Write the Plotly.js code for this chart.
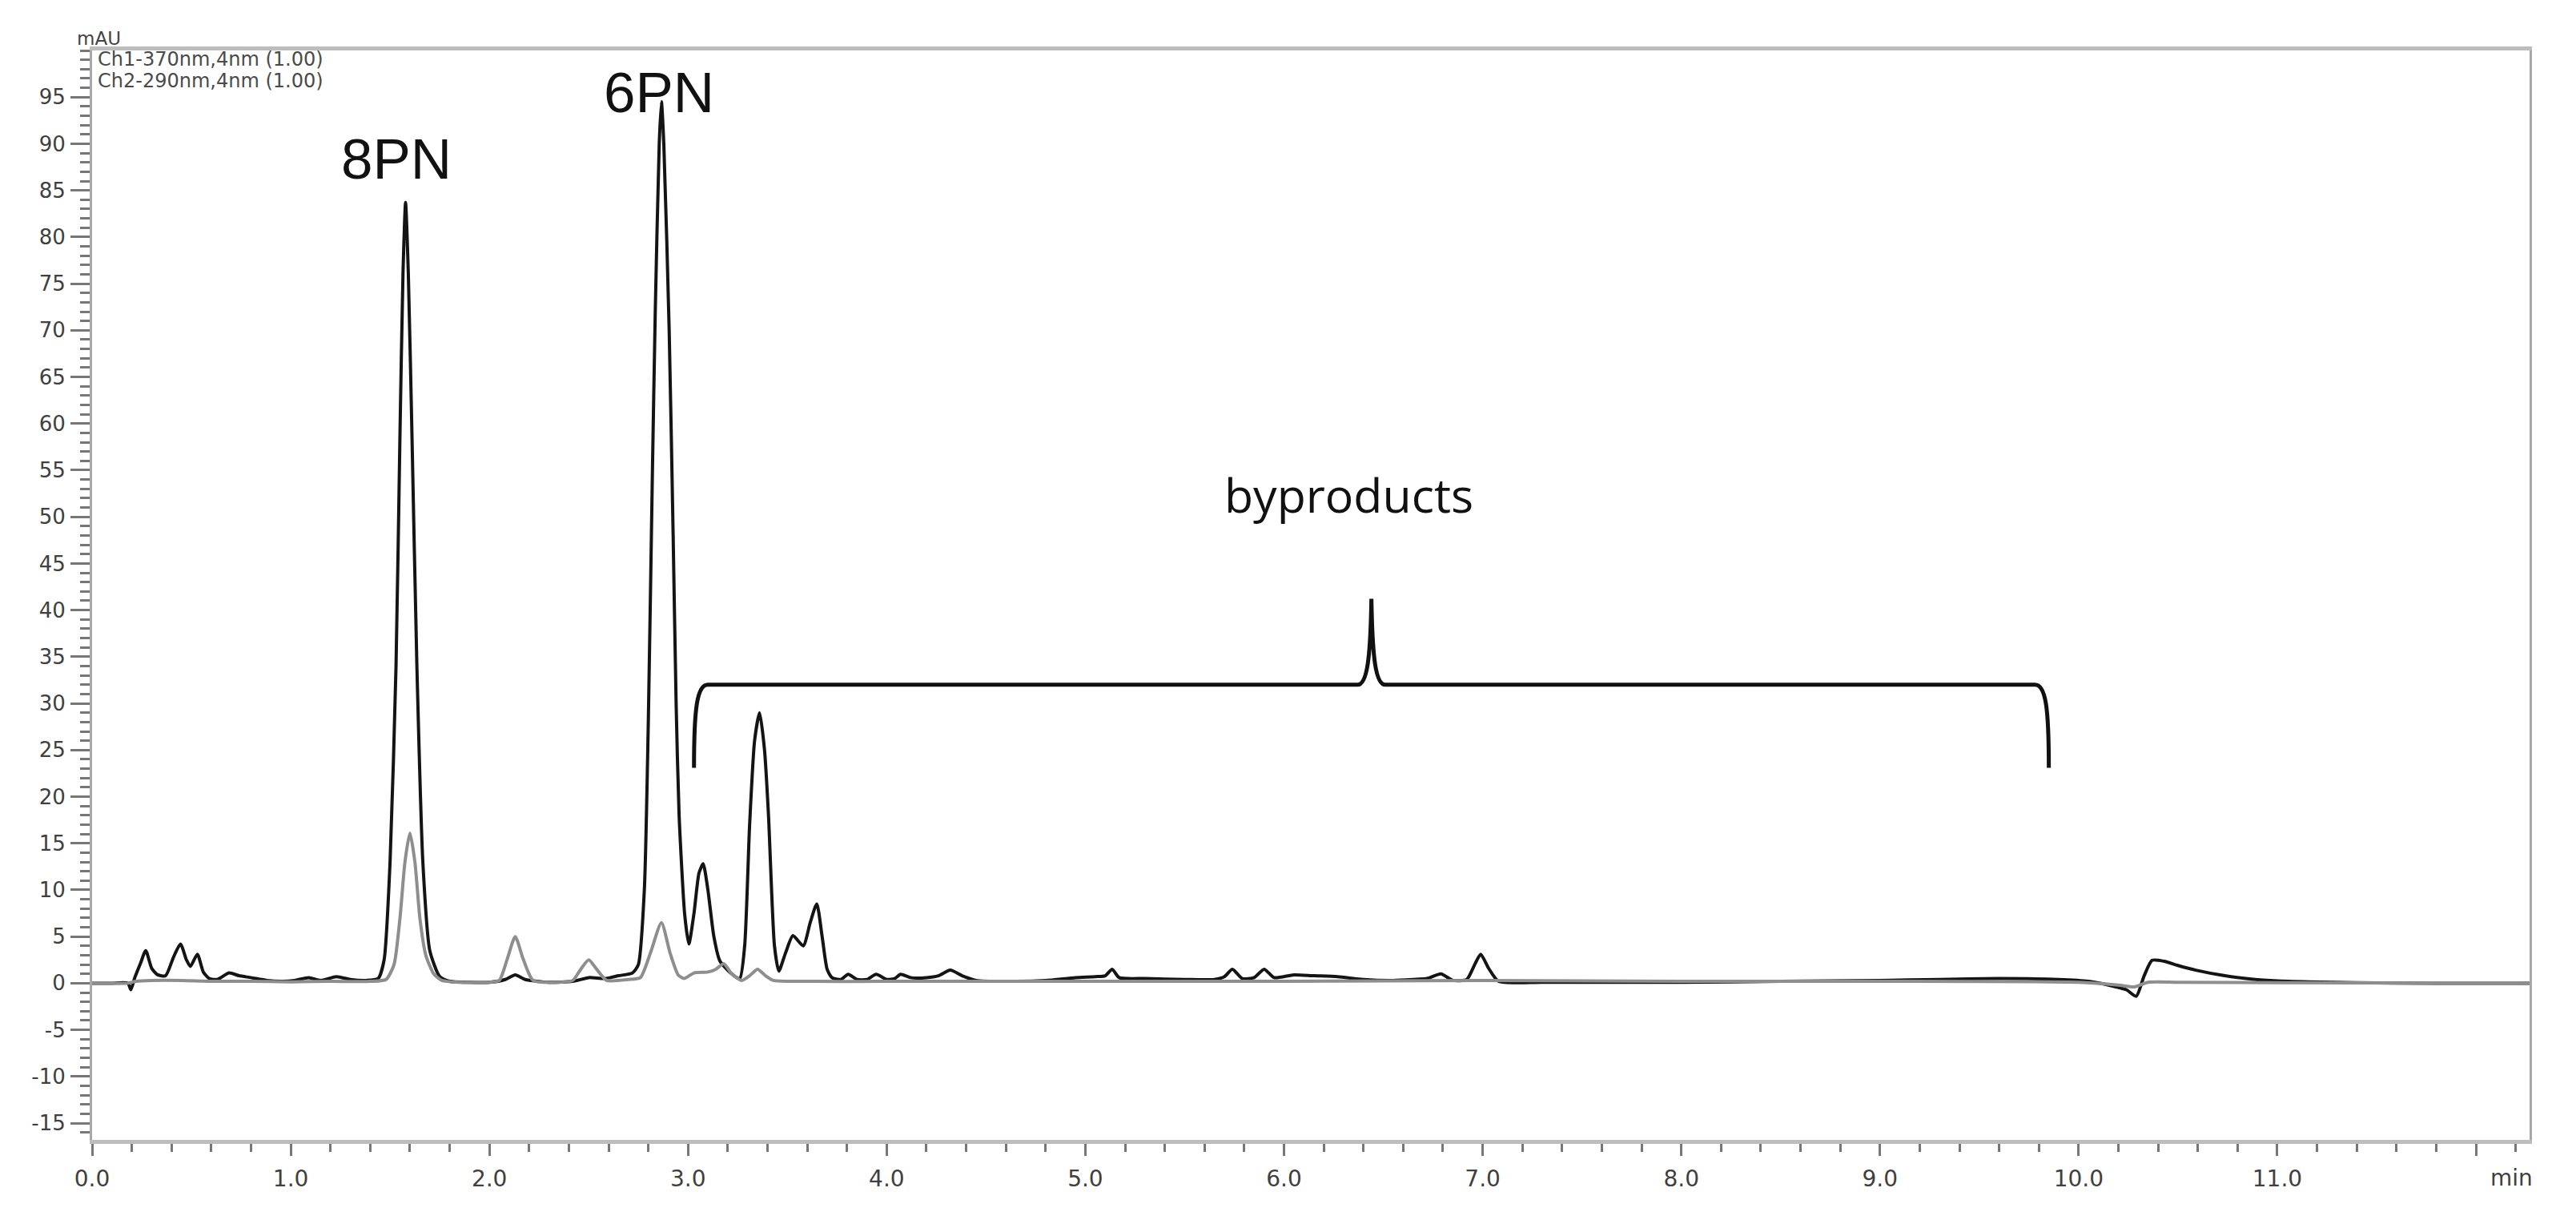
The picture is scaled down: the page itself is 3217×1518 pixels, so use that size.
<!DOCTYPE html>
<html>
<head>
<meta charset="utf-8">
<script src="https://cdn.plot.ly/plotly-3.0.1.min.js"></script>
<style>
  html, body { margin: 0; padding: 0; background: #ffffff; }
  #chart { width: 3217px; height: 1518px; }
</style>
</head>
<body>
<div id="chart"></div>
<script>
// ---- Ch1 (370 nm), black trace: retention time (min) and absorbance (mAU)
const ch1Time = [0.00, 0.10, 0.18, 0.195, 0.215, 0.245, 0.27, 0.30, 0.33, 0.37, 0.41, 0.445, 0.475, 0.495, 0.53, 0.56, 0.59, 0.63, 0.69, 0.74, 0.80, 0.88, 0.96, 1.02, 1.09, 1.15, 1.23, 1.30, 1.38, 1.44,
  1.47, 1.50, 1.53, 1.55, 1.565, 1.578, 1.592, 1.61, 1.635, 1.665, 1.70, 1.75, 1.80, 1.90, 2.00, 2.08, 2.13, 2.18, 2.30, 2.42, 2.50, 2.58, 2.65, 2.72,
  2.75, 2.78, 2.80, 2.82, 2.835, 2.855, 2.866, 2.878, 2.905, 2.925, 2.94, 2.955, 2.983, 3.004, 3.03, 3.055, 3.076, 3.10, 3.13, 3.16, 3.22, 3.26,
  3.285, 3.31, 3.335, 3.36, 3.385, 3.405, 3.435, 3.457, 3.49, 3.528, 3.58, 3.615, 3.648, 3.675, 3.70, 3.724, 3.77, 3.806, 3.85, 3.90, 3.947, 4.00,
  4.04, 4.07, 4.12, 4.20, 4.26, 4.32, 4.38, 4.45, 4.60, 4.80, 4.95, 5.05, 5.10, 5.135, 5.17, 5.30, 5.50, 5.65, 5.70, 5.74, 5.79, 5.85, 5.90, 5.95,
  6.05, 6.15, 6.27, 6.40, 6.55, 6.65, 6.72, 6.79, 6.85, 6.92, 6.96, 6.99, 7.03, 7.08, 7.30, 7.60, 8.00, 8.50, 9.00, 9.30, 9.60, 9.90, 10.05, 10.15,
  10.24, 10.29, 10.33, 10.37, 10.43, 10.50, 10.59, 10.73, 10.87, 11.00, 11.16, 11.40, 11.80, 12.27];
const ch1Abs = [0.00, 0.00, 0.00, -0.7, 0.6, 2.2, 3.5, 1.6, 0.9, 0.8, 2.8, 4.2, 2.5, 1.8, 3.1, 1.2, 0.5, 0.4, 1.1, 0.8, 0.6, 0.3, 0.2, 0.3, 0.6, 0.3, 0.7, 0.4, 0.3, 0.5,
  2.5, 13, 34, 59, 76, 83.7, 76, 59, 34, 13, 3.5, 0.7, 0.2, 0.1, 0.1, 0.4, 0.9, 0.4, 0.1, 0.2, 0.6, 0.5, 0.8, 1.1,
  2.0, 10, 28, 54, 72, 90, 94.5, 90, 70, 48, 30, 18, 7.4, 4.2, 7.5, 11.8, 12.8, 10, 5, 2.4, 1.0, 0.5,
  4, 17, 26, 29, 25, 18, 4, 1.3, 3.2, 5.1, 4.0, 6.5, 8.5, 5, 1.5, 0.6, 0.4, 0.95, 0.4, 0.4, 0.95, 0.4,
  0.5, 0.95, 0.6, 0.6, 0.8, 1.4, 0.8, 0.3, 0.2, 0.3, 0.6, 0.7, 0.8, 1.5, 0.6, 0.5, 0.4, 0.4, 0.7, 1.5, 0.5, 0.6, 1.5, 0.6,
  0.9, 0.8, 0.7, 0.4, 0.3, 0.4, 0.5, 1.0, 0.3, 0.4, 2.0, 3.1, 1.6, 0.2, 0.1, 0.1, 0.1, 0.2, 0.3, 0.4, 0.5, 0.4, 0.2, -0.2,
  -0.7, -1.4, 0.8, 2.45, 2.35, 1.9, 1.4, 0.83, 0.45, 0.25, 0.15, 0.05, 0.0, 0.0];

// ---- Ch2 (290 nm), grey trace
const ch2Time = [0.00, 0.18, 0.22, 0.30, 0.45, 0.60, 0.80, 1.00, 1.20, 1.40, 1.48, 1.52, 1.55, 1.575, 1.60, 1.625, 1.65, 1.68, 1.72, 1.76, 1.85, 2.00,
  2.05, 2.09, 2.13, 2.17, 2.22, 2.35, 2.42, 2.46, 2.50, 2.54, 2.59, 2.70, 2.76, 2.81, 2.866, 2.91, 2.95, 2.98, 3.03, 3.10, 3.14, 3.18, 3.22, 3.27,
  3.31, 3.35, 3.39, 3.43, 3.55, 4.00, 5.00, 6.00, 7.00, 8.00, 9.00, 10.00, 10.20, 10.28, 10.35, 10.50, 11.00, 12.27];
const ch2Abs = [0.00, 0.00, 0.2, 0.3, 0.3, 0.2, 0.2, 0.15, 0.2, 0.2, 0.4, 2, 7, 13, 16.1, 13, 7, 3, 1, 0.3, 0.1, 0.1,
  0.3, 2.6, 5.0, 2.6, 0.3, 0.1, 0.3, 1.5, 2.5, 1.5, 0.3, 0.4, 0.6, 3.2, 6.5, 3.2, 0.9, 0.5, 1.1, 1.2, 1.5, 2.1, 1.0, 0.3,
  0.8, 1.5, 0.8, 0.3, 0.2, 0.2, 0.2, 0.2, 0.3, 0.2, 0.2, 0.1, -0.2, -0.4, 0.1, 0.1, 0.05, 0.0];

// ---- axis ticks
const xTickVals = [0, 1, 2, 3, 4, 5, 6, 7, 8, 9, 10, 11, 12];
const xTickText = ['0.0', '1.0', '2.0', '3.0', '4.0', '5.0', '6.0', '7.0', '8.0', '9.0', '10.0', '11.0', ''];
const yTickVals = [-15, -10, -5, 0, 5, 10, 15, 20, 25, 30, 35, 40, 45, 50, 55, 60, 65, 70, 75, 80, 85, 90, 95];
const yTickText = ['-15', '-10', '-5', '0', '5', '10', '15', '20', '25', '30', '35', '40', '45', '50', '55', '60', '65', '70', '75', '80', '85', '90', '95'];

// ---- peak labels and the byproducts brace (in time / mAU units)
const peakLabels = ['8PN', '6PN'];
const peakLabelX = [1.532, 2.855];
const peakLabelY = [88.4, 95.5];
const braceText = 'byproducts';
const braceTextX = 6.326;
const braceTextY = 52.4;
const braceEnds = [3.03, 9.85];
const braceTipY = 23.1;
const braceLevel = 32.0;
const braceMid = [6.44, 41.2];
const channelNames = ['Ch1-370nm,4nm (1.00)', 'Ch2-290nm,4nm (1.00)'];

const traces = [
  { x: ch1Time, y: ch1Abs, type: 'scatter', mode: 'lines', name: channelNames[0],
    line: { color: '#141414', width: 4, shape: 'spline', smoothing: 0.6 }, hoverinfo: 'skip' },
  { x: ch2Time, y: ch2Abs, type: 'scatter', mode: 'lines', name: channelNames[1],
    line: { color: '#8e8e8e', width: 4, shape: 'spline', smoothing: 0.6 }, hoverinfo: 'skip' }
];

const L = braceEnds[0], R = braceEnds[1], lv = braceLevel, t = braceTipY, mx = braceMid[0], my = braceMid[1];
const bracePath =
  `M ${L},${t} C ${L},${lv - 2.5} ${L + 0.015},${lv} ${L + 0.07},${lv} ` +
  `L ${mx - 0.07},${lv} C ${mx - 0.02},${lv} ${mx - 0.005},${lv + 3} ${mx},${my} ` +
  `C ${mx + 0.005},${lv + 3} ${mx + 0.02},${lv} ${mx + 0.07},${lv} ` +
  `L ${R - 0.07},${lv} C ${R - 0.015},${lv} ${R},${lv - 2.5} ${R},${t}`;

const smallFont = { family: 'DejaVu Sans, Arial, sans-serif', size: 24, color: '#4a4a4a' };

const annotations = [];
for (let i = 0; i < peakLabels.length; i++) {
  annotations.push({ x: peakLabelX[i], y: peakLabelY[i], xref: 'x', yref: 'y', text: peakLabels[i],
    showarrow: false, xanchor: 'center', yanchor: 'middle',
    font: { family: 'Liberation Sans, Arial, sans-serif', size: 71, color: '#111111' } });
}
annotations.push({ x: braceTextX, y: braceTextY, xref: 'x', yref: 'y', text: braceText,
  showarrow: false, xanchor: 'center', yanchor: 'middle',
  font: { family: 'Open Sans, sans-serif', size: 59, color: '#111111' } });
annotations.push({ x: -0.007, y: 1.0110, xref: 'paper', yref: 'paper', text: 'mAU', showarrow: false,
  xanchor: 'left', yanchor: 'middle', font: { family: 'DejaVu Sans, Arial, sans-serif', size: 23, color: '#444444' } });
annotations.push({ x: 0.0015, y: 0.9918, xref: 'paper', yref: 'paper', text: channelNames[0], showarrow: false,
  xanchor: 'left', yanchor: 'middle', font: smallFont });
annotations.push({ x: 0.0015, y: 0.9718, xref: 'paper', yref: 'paper', text: channelNames[1], showarrow: false,
  xanchor: 'left', yanchor: 'middle', font: smallFont });
annotations.push({ x: 12.18, y: -0.0350, xref: 'x', yref: 'paper', text: 'min', showarrow: false,
  xanchor: 'center', yanchor: 'middle', font: { family: 'DejaVu Sans, Arial, sans-serif', size: 28, color: '#404040' } });

const layout = {
  width: 3217, height: 1518,
  margin: { l: 115, r: 58, t: 63, b: 95, pad: 0 },
  paper_bgcolor: '#ffffff', plot_bgcolor: '#ffffff',
  showlegend: false,
  xaxis: {
    range: [0, 12.27], showgrid: false, zeroline: false,
    showline: true, linecolor: '#bdbdbd', linewidth: 5, mirror: true,
    tickmode: 'array', tickvals: xTickVals, ticktext: xTickText,
    ticks: 'outside', ticklen: 15, tickwidth: 3, tickcolor: '#777777',
    ticklabelstandoff: 4,
    tickfont: { family: 'DejaVu Sans, Arial, sans-serif', size: 28, color: '#404040' },
    minor: { tickmode: 'linear', tick0: 0, dtick: 0.2, ticks: 'outside', ticklen: 10, tickwidth: 3, tickcolor: '#777777', showgrid: false }
  },
  yaxis: {
    range: [-16.8, 100], showgrid: false, zeroline: false,
    showline: true, linecolor: '#a8a8a8', linewidth: 3, mirror: true,
    tickmode: 'array', tickvals: yTickVals, ticktext: yTickText,
    ticks: 'outside', ticklen: 24, tickwidth: 3, tickcolor: '#777777',
    ticklabelstandoff: 1,
    tickfont: { family: 'DejaVu Sans, Arial, sans-serif', size: 26, color: '#404040' },
    minor: { tickmode: 'linear', tick0: 0, dtick: 1, ticks: 'outside', ticklen: 12, tickwidth: 3, tickcolor: '#777777', showgrid: false }
  },
  shapes: [
    { type: 'path', xref: 'x', yref: 'y', path: bracePath, line: { color: '#111111', width: 5 } }
  ],
  annotations: annotations
};

Plotly.newPlot('chart', traces, layout, { displayModeBar: false, staticPlot: true });
</script>
</body>
</html>
